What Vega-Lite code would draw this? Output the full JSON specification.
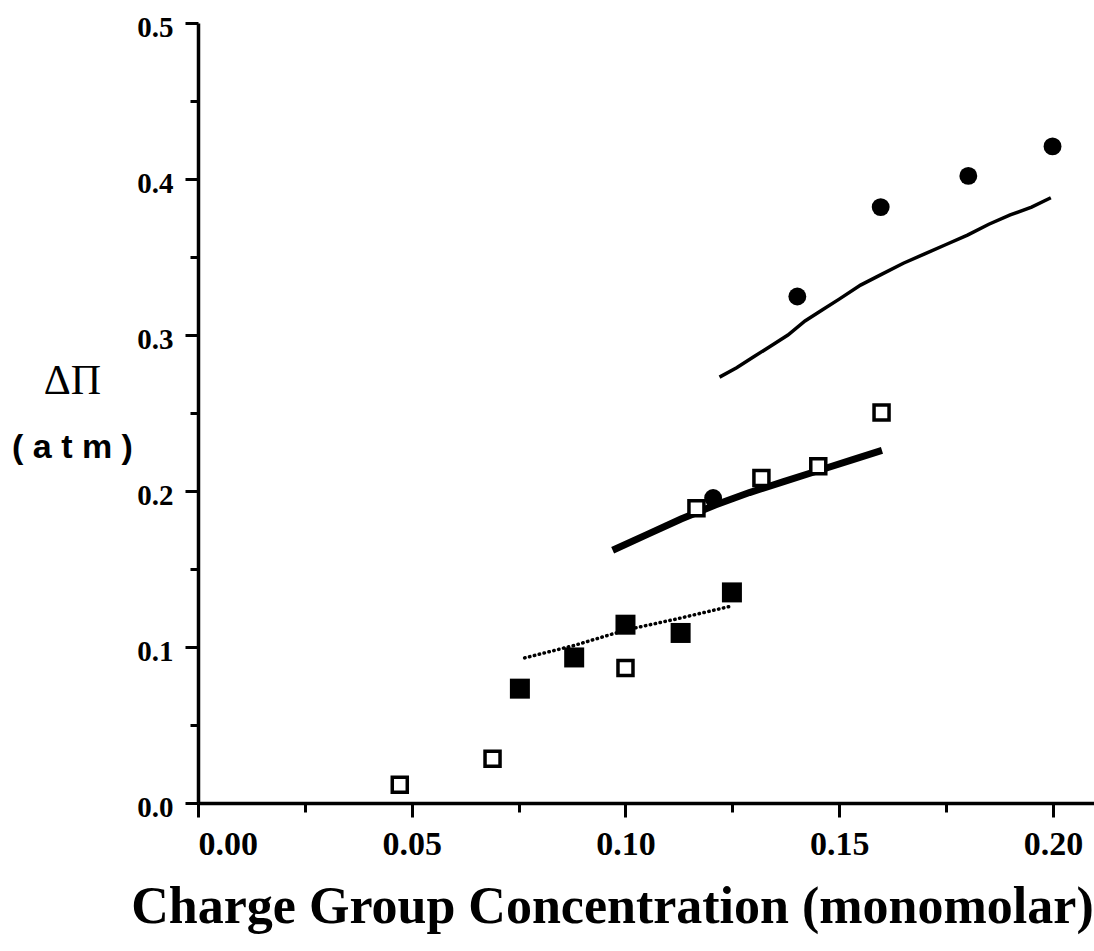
{
  "$schema": "https://vega.github.io/schema/vega-lite/v6.json",
  "width": 896,
  "height": 780,
  "autosize": {"type": "none"},
  "padding": {"left": 198, "top": 23, "right": 0, "bottom": 148},
  "background": "white",
  "config": {
    "view": {"stroke": null},
    "axis": {"grid": false, "domainColor": "black", "tickColor": "black", "labelColor": "black", "titleColor": "black", "domainWidth": 3.5, "tickWidth": 3}
  },
  "datasets": {
    "pts": [
      {"series": "open", "x": 0.0472, "y": 0.0117},
      {"series": "open", "x": 0.0689, "y": 0.0284},
      {"series": "open", "x": 0.1000, "y": 0.0865},
      {"series": "open", "x": 0.1166, "y": 0.1890},
      {"series": "open", "x": 0.1318, "y": 0.2083},
      {"series": "open", "x": 0.1451, "y": 0.2158},
      {"series": "open", "x": 0.1599, "y": 0.2504},
      {"series": "filledsq", "x": 0.0753, "y": 0.0733},
      {"series": "filledsq", "x": 0.0880, "y": 0.0933},
      {"series": "filledsq", "x": 0.1000, "y": 0.1143},
      {"series": "filledsq", "x": 0.1129, "y": 0.1090},
      {"series": "filledsq", "x": 0.1249, "y": 0.1350},
      {"series": "circle", "x": 0.1205, "y": 0.1955},
      {"series": "circle", "x": 0.1402, "y": 0.3247},
      {"series": "circle", "x": 0.1597, "y": 0.3820},
      {"series": "circle", "x": 0.1802, "y": 0.4020},
      {"series": "circle", "x": 0.1999, "y": 0.4209}
    ],
    "lines": [
      {"series": "A", "x": 0.122, "y": 0.273},
      {"series": "A", "x": 0.126, "y": 0.279},
      {"series": "A", "x": 0.130, "y": 0.286},
      {"series": "A", "x": 0.134, "y": 0.293},
      {"series": "A", "x": 0.138, "y": 0.300},
      {"series": "A", "x": 0.142, "y": 0.309},
      {"series": "A", "x": 0.146, "y": 0.316},
      {"series": "A", "x": 0.150, "y": 0.323},
      {"series": "A", "x": 0.155, "y": 0.332},
      {"series": "A", "x": 0.160, "y": 0.339},
      {"series": "A", "x": 0.165, "y": 0.346},
      {"series": "A", "x": 0.170, "y": 0.352},
      {"series": "A", "x": 0.175, "y": 0.358},
      {"series": "A", "x": 0.180, "y": 0.364},
      {"series": "A", "x": 0.185, "y": 0.371},
      {"series": "A", "x": 0.190, "y": 0.377},
      {"series": "A", "x": 0.195, "y": 0.382},
      {"series": "A", "x": 0.1995, "y": 0.388},
      {"series": "B", "x": 0.097, "y": 0.162},
      {"series": "B", "x": 0.105, "y": 0.172},
      {"series": "B", "x": 0.113, "y": 0.182},
      {"series": "B", "x": 0.121, "y": 0.191},
      {"series": "B", "x": 0.129, "y": 0.199},
      {"series": "B", "x": 0.137, "y": 0.206},
      {"series": "B", "x": 0.145, "y": 0.213},
      {"series": "B", "x": 0.153, "y": 0.220},
      {"series": "B", "x": 0.160, "y": 0.226},
      {"series": "C", "x": 0.0764, "y": 0.093},
      {"series": "C", "x": 0.0880, "y": 0.101},
      {"series": "C", "x": 0.1002, "y": 0.111},
      {"series": "C", "x": 0.1120, "y": 0.118},
      {"series": "C", "x": 0.1244, "y": 0.126}
    ]
  },
  "layer": [
    {
      "data": {"name": "lines"},
      "transform": [{"filter": "datum.series == 'A'"}],
      "mark": {"type": "line", "color": "black", "strokeWidth": 3.5},
      "encoding": {
        "x": {"field": "x", "type": "quantitative", "scale": {"domain": [0, 0.2096], "nice": false},
          "axis": {"values": [0, 0.025, 0.05, 0.075, 0.1, 0.125, 0.15, 0.175, 0.2],
            "labelExpr": "round(datum.value*40)%2==0 ? format(datum.value, '.2f') : ''",
            "tickSize": {"condition": {"test": "round(datum.value*40)%2==0", "value": 14}, "value": 9},
            "labelFont": "Liberation Serif", "labelFontWeight": "bold", "labelFontSize": 34, "labelPadding": 10,
            "title": "Charge Group Concentration (monomolar)", "titleFont": "Liberation Serif", "titleFontWeight": "bold", "titleFontSize": 52,
            "titleX": 414, "titleY": 119, "titleBaseline": "alphabetic", "titleAlign": "center"}},
        "y": {"field": "y", "type": "quantitative", "scale": {"domain": [0, 0.5], "nice": false},
          "axis": {"values": [0, 0.05, 0.1, 0.15, 0.2, 0.25, 0.3, 0.35, 0.4, 0.45, 0.5],
            "labelExpr": "round(datum.value*20)%2==0 ? format(datum.value, '.1f') : ''",
            "tickSize": {"condition": {"test": "round(datum.value*20)%2==0", "value": 13}, "value": 8},
            "labelFont": "Liberation Serif", "labelFontWeight": "bold", "labelFontSize": 29, "labelPadding": 12, "labelBaseline": "middle", "labelOffset": 4,
            "title": "ΔΠ", "titleFont": "Liberation Serif", "titleFontWeight": "normal", "titleFontSize": 42,
            "titleAngle": 0, "titleX": -126, "titleY": 357, "titleAlign": "center", "titleBaseline": "middle"}}
      }
    },
    {
      "data": {"name": "lines"},
      "transform": [{"filter": "datum.series == 'B'"}],
      "mark": {"type": "line", "color": "black", "strokeWidth": 7},
      "encoding": {
        "x": {"field": "x", "type": "quantitative"},
        "y": {"field": "y", "type": "quantitative", "scale": {"domain": [0, 0.5], "nice": false},
          "axis": {"orient": "left", "labels": false, "ticks": false, "domain": false,
            "title": "( a t m )", "titleFont": "Liberation Sans", "titleFontWeight": "bold", "titleFontSize": 34,
            "titleAngle": 0, "titleX": -126, "titleY": 424, "titleAlign": "center", "titleBaseline": "middle"}}
      }
    },
    {
      "data": {"name": "lines"},
      "transform": [{"filter": "datum.series == 'C'"}],
      "mark": {"type": "line", "color": "black", "strokeWidth": 3.5, "strokeDash": [0.5, 4.5], "strokeCap": "round"},
      "encoding": {
        "x": {"field": "x", "type": "quantitative"},
        "y": {"field": "y", "type": "quantitative", "scale": {"domain": [0, 0.5], "nice": false}, "axis": null}
      }
    },
    {
      "data": {"name": "pts"},
      "transform": [{"filter": "datum.series == 'circle'"}],
      "mark": {"type": "point", "shape": "circle", "filled": true, "color": "black", "size": 320, "opacity": 1},
      "encoding": {
        "x": {"field": "x", "type": "quantitative"},
        "y": {"field": "y", "type": "quantitative", "scale": {"domain": [0, 0.5], "nice": false}, "axis": null}
      }
    },
    {
      "data": {"name": "pts"},
      "transform": [{"filter": "datum.series == 'filledsq'"}],
      "mark": {"type": "point", "shape": "square", "filled": true, "color": "black", "size": 400, "opacity": 1},
      "encoding": {
        "x": {"field": "x", "type": "quantitative"},
        "y": {"field": "y", "type": "quantitative", "scale": {"domain": [0, 0.5], "nice": false}, "axis": null}
      }
    },
    {
      "data": {"name": "pts"},
      "transform": [{"filter": "datum.series == 'open'"}],
      "mark": {"type": "point", "shape": "square", "filled": false, "fill": "white", "fillOpacity": 1, "stroke": "black", "strokeWidth": 3.5, "size": 225, "opacity": 1},
      "encoding": {
        "x": {"field": "x", "type": "quantitative"},
        "y": {"field": "y", "type": "quantitative", "scale": {"domain": [0, 0.5], "nice": false}, "axis": null}
      }
    }
  ],
  "resolve": {"scale": {"y": "independent"}, "axis": {"y": "independent"}}
}
